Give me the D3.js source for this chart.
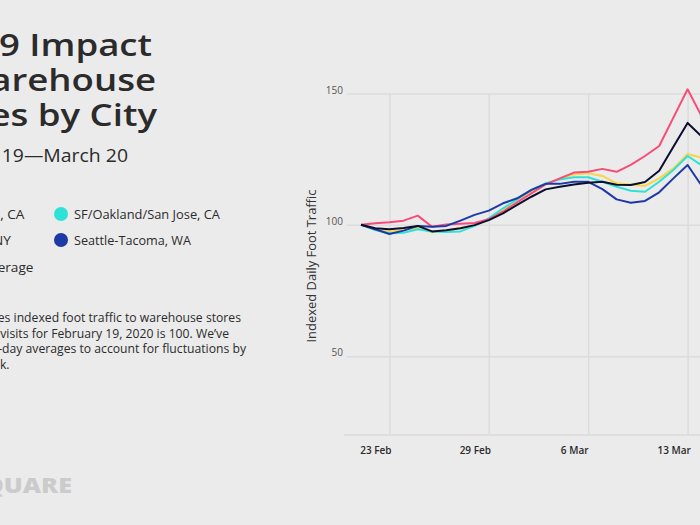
<!DOCTYPE html>
<html><head><meta charset="utf-8">
<script src="https://cdn.jsdelivr.net/npm/d3@7"></script>
<style>html,body{margin:0;padding:0;background:#ebebeb;overflow:hidden}svg{display:block}</style>
</head><body><svg id="c" width="700" height="525"></svg>
<script>
// ---- data ----
const startDate = "2020-02-19";
const losAngeles = [100,100.6,101.0,101.6,103.5,99.3,100.1,100.4,100.7,102.1,105.0,108.6,112.0,115.4,117.7,119.9,120.2,121.3,120.2,122.8,126.2,130.0,140.8,151.6,141.2];
const newYork    = [100,98.3,97.4,98.0,98.8,97.2,97.8,98.7,99.9,102.1,105.6,108.8,112.6,115.6,117.5,119.2,119.6,118.6,115.8,115.4,114.8,117.7,121.5,127.0,125.5];
const sfOakland  = [100,98.0,96.8,97.0,98.3,97.5,97.3,97.5,99.6,102.5,106.3,109.7,113.3,115.8,117.3,118.1,118.1,116.4,114.5,113.0,112.6,116.4,120.9,126.2,122.6];
const seattle    = [100,98.3,96.5,97.8,99.6,99.3,99.6,101.6,103.8,105.4,108.2,110.1,113.3,115.6,115.6,116.4,116.4,113.6,109.7,108.4,109.1,112.4,117.7,122.8,114.8];
const national   = [100,98.7,98.3,98.8,99.6,97.5,97.9,98.7,99.9,101.8,104.4,107.6,110.7,113.5,114.5,115.4,116.0,116.4,115.3,115.2,116.3,120.6,129.7,138.8,133.6];
const seriesNames = ["Los Angeles, CA","New York, NY","SF/Oakland/San Jose, CA","Seattle-Tacoma, WA","National average"];
const seriesColors = ["#f84b7a","#f6d54a","#2fe2d7","#1d39a6","#0c0f2c"];
const yTicks = [50,100,150];
const xGridDates = ["2020-02-21","2020-02-28","2020-03-06","2020-03-13"];
const xTickLabels = ["23 Feb","29 Feb","6 Mar","13 Mar"];

const parse = d3.timeParse("%Y-%m-%d");
const t0 = parse(startDate);
const allSeries = [losAngeles,newYork,sfOakland,seattle,national].map((vals,k)=>({
  name: seriesNames[k], color: seriesColors[k],
  values: vals.map((v,i)=>({date:d3.timeDay.offset(t0,i), value:v}))
}));

const FONT = "'Open Sans', sans-serif";
const svg = d3.select("#c");
svg.append("rect").attr("width",700).attr("height",525).attr("fill","#ebebeb");

// ---- scales ----
const plotLeft = 347, plotRight = 760, plotTop = 93.5, plotBottom = 435;
const x = d3.scaleTime().domain([t0, parse("2020-03-13")]).range([361, 687.6]);
const y = d3.scaleLinear().domain([20,150]).range([plotBottom, plotTop]);

// horizontal grid + y labels
const yAxis = svg.append("g").attr("transform",`translate(${plotLeft},0)`)
  .call(d3.axisLeft(y).tickValues(yTicks).tickSize(-(plotRight-plotLeft)).tickPadding(4));
yAxis.select(".domain").remove();
yAxis.selectAll(".tick line").attr("stroke","#dcdcdc").attr("stroke-width",1.5);
yAxis.selectAll(".tick text").attr("fill","#555").attr("font-family",FONT)
  .attr("font-size",10).attr("dy","-0.05em");

// vertical grid + x labels
const xAxis = svg.append("g").attr("transform",`translate(0,${plotBottom})`)
  .call(d3.axisBottom(x).tickValues(xGridDates.map(parse))
    .tickFormat((d,i)=>xTickLabels[i]).tickSize(-(plotBottom-plotTop)).tickPadding(10));
xAxis.select(".domain").remove();
xAxis.selectAll(".tick line").attr("stroke","#dcdcdc").attr("stroke-width",1.5);
xAxis.selectAll(".tick text").attr("fill","#2a2a2a").attr("font-family",FONT)
  .attr("font-weight",600).attr("font-size",10).attr("dx",-14).attr("dy","0.85em");

// baseline
svg.append("line").attr("x1",344).attr("x2",plotRight).attr("y1",plotBottom).attr("y2",plotBottom)
  .attr("stroke","#dedede").attr("stroke-width",2);

// y title
svg.append("text").attr("transform","translate(316,266) rotate(-90)")
  .attr("text-anchor","middle").attr("font-family",FONT).attr("font-size",12)
  .attr("textLength",153).attr("lengthAdjust","spacingAndGlyphs")
  .attr("fill","#333").text("Indexed Daily Foot Traffic");

// lines
const line = d3.line().x(d=>x(d.date)).y(d=>y(d.value));
const drawOrder = [1,2,0,3,4];
drawOrder.forEach(k=>{
  svg.append("path").datum(allSeries[k].values).attr("d",line)
    .attr("fill","none").attr("stroke",allSeries[k].color).attr("stroke-width",2)
    .attr("stroke-linejoin","round");
});

// ---- left panel texts ----
function endText(xEnd, yBase, sx, txt){
  return svg.append("text").attr("transform",`translate(${xEnd},${yBase}) scale(${sx},1)`)
    .attr("text-anchor","end").attr("font-family",FONT).text(txt);
}
const titleLines = ["COVID-19 Impact","on Warehouse","Stores by City"];
const titleEnds = [152,156,157];
const titleBase = [56,91,126];
titleLines.forEach((t,i)=>{
  endText(titleEnds[i], titleBase[i], 1.18, t).attr("font-weight",600).attr("font-size",31).attr("fill","#2b2b2b");
});
endText(128,162,1.08,"February 19\u2014March 20").attr("font-size",18).attr("fill","#2b2b2b");

// legend
const legendLeft = [{i:0,end:24.5,y:218.5},{i:1,end:11,y:244.5},{i:4,end:33.5,y:271.5}];
legendLeft.forEach(l=>{
  endText(l.end,l.y,1.05,allSeries[l.i].name).attr("font-size",13).attr("fill","#2b2b2b");
});
const legendRight = [{i:2,y:214,w:146},{i:3,y:240,w:117}];
legendRight.forEach(l=>{
  svg.append("circle").attr("cx",61).attr("cy",l.y).attr("r",7).attr("fill",allSeries[l.i].color);
  svg.append("text").attr("x",74).attr("y",l.y).attr("dy","0.35em")
    .attr("font-family",FONT).attr("font-size",13).attr("fill","#2b2b2b")
    .attr("textLength",l.w).attr("lengthAdjust","spacingAndGlyphs")
    .text(allSeries[l.i].name);
});

// description
const desc = ["This chart compares indexed foot traffic to warehouse stores",
  "where visits for February 19, 2020 is 100. We\u2019ve",
  "used 7-day averages to account for fluctuations by",
  "day of the week."];
const descEnds = [241,229,246,9.5];
desc.forEach((t,i)=>{
  svg.append("text").attr("x",descEnds[i]).attr("y",318+i*15.5).attr("dy","0.35em").attr("text-anchor","end")
    .attr("font-family",FONT).attr("font-size",12.2).attr("fill","#2b2b2b").text(t);
});

// logo
endText(72,493,1.2,"FOURSQUARE").attr("font-weight",800).attr("font-size",21).attr("fill","#cbcbcb");
</script></body></html>
